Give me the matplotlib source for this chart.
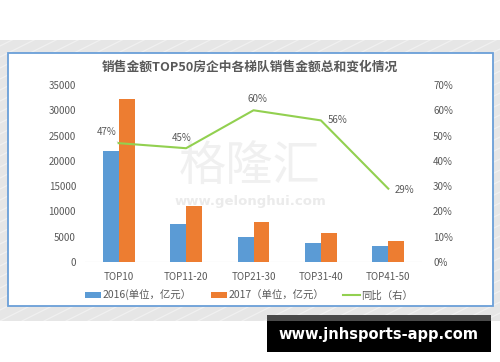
import matplotlib
matplotlib.use("Agg")
import matplotlib.pyplot as plt
from matplotlib.patches import Rectangle
from matplotlib.lines import Line2D
import numpy as np

plt.rcParams['font.family'] = ['Noto Sans CJK SC', 'DejaVu Sans']

categories = ["TOP10", "TOP11-20", "TOP21-30", "TOP31-40", "TOP41-50"]
sales_2016 = [22000, 7600, 4900, 3700, 3200]
sales_2017 = [32300, 11000, 7850, 5780, 4130]
yoy_pct = [47, 45, 60, 56, 29]
yoy_labels = ["47%", "45%", "60%", "56%", "29%"]
left_ticks = [0, 5000, 10000, 15000, 20000, 25000, 30000, 35000]
right_ticks = [0, 10, 20, 30, 40, 50, 60, 70]

title = "销售金额TOP50房企中各梯队销售金额总和变化情况"
legend_labels = ["2016(单位，亿元）", "2017（单位，亿元）", "同比（右）"]

C_BLUE = "#5B9BD5"
C_ORANGE = "#ED7D31"
C_GREEN = "#92D050"
C_TEXT = "#595959"

W, H = 500, 362
fig = plt.figure(figsize=(5, 3.62), dpi=100)
fig.patch.set_facecolor("white")

def fx(px):
    return px / W

def fy(py):
    return 1 - py / H

# gray striped band
band = Rectangle((0, fy(321)), 1, fy(40) - fy(321), transform=fig.transFigure,
                 facecolor="#e6e6e6", edgecolor="none", zorder=0)
fig.patches.append(band)
for k in range(-60, 60):
    x0 = k * 22
    ln = Line2D([fx(x0), fx(x0 + 600)], [fy(321), fy(321 - 300)],
                transform=fig.transFigure, color="white", lw=0.8, alpha=0.45, zorder=0.5)
    ln.set_clip_path(band)
    fig.lines.append(ln)

# inner white box with blue border
box = Rectangle((fx(8), fy(306)), fx(493) - fx(8), fy(53) - fy(306), transform=fig.transFigure,
                facecolor="white", edgecolor="#6A9FD8", lw=1.3, zorder=1)
fig.patches.append(box)

# watermark
fig.text(0.5, fy(167), "格隆汇", ha="center", va="center", fontsize=34, color="#f0f0f0",
         fontweight="light", zorder=1.5)
fig.text(0.5, fy(201), "www.gelonghui.com", ha="center", va="center", fontsize=9.5,
         color="#ebebeb", fontweight="bold", family=["DejaVu Sans"], zorder=1.5)

ax = fig.add_axes([fx(85), fy(262), fx(422) - fx(85), fy(85) - fy(262)])
ax.set_zorder(2)
ax.patch.set_visible(False)
x = np.arange(len(categories))
bw = 0.237
ax.bar(x - bw / 2, sales_2016, width=bw, color=C_BLUE, label=legend_labels[0], zorder=3)
ax.bar(x + bw / 2, sales_2017, width=bw, color=C_ORANGE, label=legend_labels[1], zorder=3)
ax.set_xlim(-0.5, 4.5)
ax.set_ylim(0, 35000)
ax.set_yticks(left_ticks)
ax.set_yticklabels([str(v) for v in left_ticks])
ax.set_xticks(x)
ax.set_xticklabels(categories)
for s in ax.spines.values():
    s.set_visible(False)
ax.axhline(0, color="#d9d9d9", lw=0.8, zorder=2)
ax.tick_params(axis="y", length=0, pad=6.5, labelsize=7, labelcolor=C_TEXT)
ax.tick_params(axis="x", length=0, pad=7, labelsize=7, labelcolor=C_TEXT)

ax2 = ax.twinx()
ax2.patch.set_visible(False)
line, = ax2.plot(x, yoy_pct, color=C_GREEN, lw=1.5, label=legend_labels[2], zorder=4)
ax2.set_ylim(0, 70)
ax2.set_yticks(right_ticks)
ax2.set_yticklabels([f"{v}%" for v in right_ticks])
for s in ax2.spines.values():
    s.set_visible(False)
ax2.tick_params(axis="y", length=0, pad=8, labelsize=7, labelcolor=C_TEXT)

offsets = [(-8.6, 8), (-3, 7.4), (3, 8), (12.2, 0), (11.5, -0.7)]
for i, (v, lab) in enumerate(zip(yoy_pct, yoy_labels)):
    dx, dy = offsets[i]
    kw = {}
    if i == 0:
        kw["arrowprops"] = dict(arrowstyle="-", color="#c8c8c8", lw=0.6,
                                shrinkA=2, shrinkB=0)
    ax2.annotate(lab, xy=(x[i], v), xytext=(dx, dy), textcoords="offset points",
                 ha="center", va="center", fontsize=7, color=C_TEXT, **kw)

fig.text(0.5, fy(67), title, ha="center", va="center", fontsize=9.2,
         color=C_TEXT, fontweight="bold")

h1, l1 = ax.get_legend_handles_labels()
h2, l2 = ax2.get_legend_handles_labels()
leg = fig.legend(h1 + h2, l1 + l2, loc="center", bbox_to_anchor=(fx(249), fy(295)),
                 ncol=3, frameon=False, fontsize=7.5, handlelength=1.6, handleheight=0.5,
                 handletextpad=0.15, columnspacing=1.8, labelcolor=C_TEXT)
leg.set_zorder(3)

# badge
fig.patches.append(Rectangle((fx(267), fy(321)), fx(491) - fx(267), fy(315) - fy(321),
                             transform=fig.transFigure, facecolor="#4a4a4a",
                             edgecolor="none", zorder=5))
fig.patches.append(Rectangle((fx(267), fy(352)), fx(491) - fx(267), fy(321) - fy(352),
                             transform=fig.transFigure, facecolor="black",
                             edgecolor="none", zorder=5))
fig.text(fx(378), fy(335), "www.jnhsports-app.com", ha="center", va="center",
         fontsize=10.5, color="white", fontweight="bold", family=["DejaVu Sans"], zorder=6)

fig.savefig("out.png", dpi=100)
